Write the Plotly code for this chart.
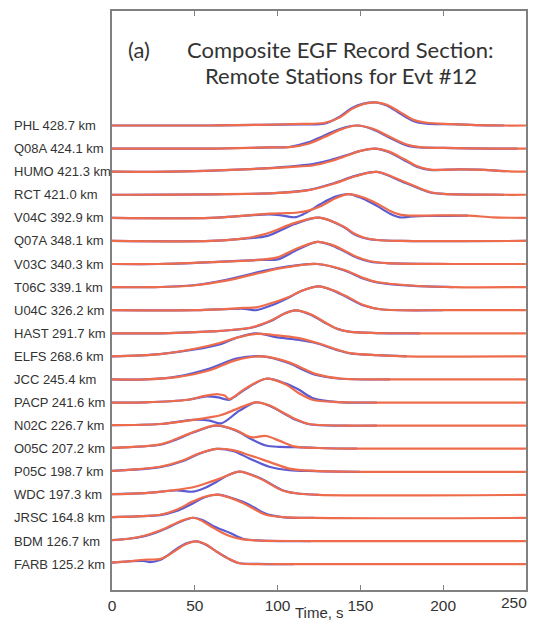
import plotly.graph_objects as go

# ---------------- data ----------------
STATIONS = ["PHL", "Q08A", "HUMO", "RCT", "V04C", "Q07A", "V03C", "T06C", "U04C", "HAST",
            "ELFS", "JCC", "PACP", "N02C", "O05C", "P05C", "WDC", "JRSC", "BDM", "FARB"]
DIST_KM = [428.7, 424.1, 421.3, 421.0, 392.9, 348.1, 340.3, 339.1, 326.2, 291.7,
           268.6, 245.4, 241.6, 226.7, 207.2, 198.7, 197.3, 164.8, 126.7, 125.2]
X_TICKS = [0, 50, 100, 150, 200, 250]

# time knots (s) and normalised amplitudes (red = orange trace, blue = blue trace)
PHL_T = [0, 60, 90, 115, 128, 137, 145, 152, 159, 166, 174, 182, 190, 205, 220, 237, 250]
PHL_RED = [0, 0, 0.03, 0.07, 0.11, 0.33, 0.72, 0.93, 1.0, 0.9, 0.58, 0.25, 0.12, 0.06, 0.02, 0, 0]
PHL_BLUE = [0, 0, 0.03, 0.05, 0.08, 0.36, 0.76, 0.95, 1.0, 0.87, 0.52, 0.2, 0.08, 0.06, 0.02, 0, None]

Q08A_T = [0, 60, 95, 107, 118, 128, 138, 148, 158, 168, 178, 186, 200, 230, 245, 250]
Q08A_RED = [0, 0, 0.05, 0.06, 0.2, 0.49, 0.82, 1.0, 0.85, 0.5, 0.18, 0.06, 0.03, 0, 0, 0]
Q08A_BLUE = [0, 0, 0.05, 0.07, 0.26, 0.56, 0.86, 1.0, 0.82, 0.46, 0.14, 0.05, 0.03, 0, 0, None]

HUMO_T = [0, 35, 80, 107, 122, 132, 142, 150, 159, 167, 176, 184, 192, 210, 225, 238, 250]
HUMO_RED = [0, 0, 0.1, 0.2, 0.28, 0.45, 0.7, 0.9, 1.0, 0.88, 0.56, 0.25, 0.09, 0.1, 0.08, 0.02, 0]
HUMO_BLUE = [0, 0, 0.1, 0.22, 0.34, 0.5, 0.72, 0.9, 1.0, 0.85, 0.52, 0.22, 0.08, 0.1, 0.08, 0.02, None]

RCT_T = [0, 10, 60, 98, 118, 134, 147, 160, 175, 192, 200, 237, 250]
RCT_RED = [0, 0, 0.02, 0.07, 0.19, 0.48, 0.8, 0.99, 0.61, 0.12, 0.04, 0, 0]
RCT_BLUE = [0, 0, 0.02, 0.07, 0.2, 0.5, 0.82, 0.99, 0.58, 0.1, 0.04, 0, None]

V04C_T = [0, 60, 95, 103, 111, 118, 126, 135, 143, 151, 160, 168, 174, 180, 190, 215, 230, 250]
V04C_RED = [0, 0, 0.18, 0.2, 0.22, 0.3, 0.5, 0.85, 1.03, 0.9, 0.62, 0.3, 0.14, 0.1, 0.1, 0.1, 0.02, 0]
V04C_BLUE = [0, 0, 0.15, 0.1, 0.03, 0.25, 0.6, 0.92, 1.03, 0.85, 0.52, 0.18, 0.02, 0.05, 0.08, 0.1, None, None]

Q07A_T = [0, 60, 80, 94, 110, 125, 140, 146, 152, 160, 175, 250]
Q07A_RED = [0, 0, 0.11, 0.33, 0.77, 1.01, 0.62, 0.33, 0.15, 0.04, 0, 0]
Q07A_BLUE = [0, 0, 0.1, 0.22, 0.72, 1.01, 0.6, 0.3, 0.13, 0.04, 0, 0]

V03C_T = [0, 28, 60, 90, 100, 112, 124, 132, 140, 148, 156, 166, 206, 250]
V03C_RED = [0, 0, 0.08, 0.19, 0.29, 0.68, 0.96, 0.85, 0.6, 0.3, 0.12, 0.04, 0, 0]
V03C_BLUE = [0, 0, 0.08, 0.18, 0.2, 0.62, 0.96, 0.83, 0.56, 0.27, 0.1, 0.04, 0, None]

T06C_T = [0, 25, 49, 69, 89, 103, 124, 140, 152, 160, 180, 206, 250]
T06C_RED = [0, 0, 0.07, 0.28, 0.61, 0.83, 1.0, 0.75, 0.39, 0.22, 0.07, 0, 0]
T06C_BLUE = [0, 0, 0.08, 0.32, 0.66, 0.86, 1.0, 0.73, 0.36, 0.2, 0.06, 0, None]

U04C_T = [0, 50, 80, 87, 96, 106, 115, 125, 134, 143, 152, 162, 200, 250]
U04C_RED = [0, 0, 0.1, 0.12, 0.3, 0.55, 0.85, 1.03, 0.85, 0.55, 0.22, 0.04, 0, 0]
U04C_BLUE = [0, 0, 0.06, 0.0, 0.2, 0.52, 0.85, 1.03, 0.83, 0.52, 0.2, 0.04, 0, None]

HAST_T = [0, 30, 60, 84, 96, 104, 111, 120, 128, 136, 144, 160, 186, 250]
HAST_RED = [0, 0, 0.08, 0.25, 0.55, 0.85, 0.99, 0.82, 0.5, 0.2, 0.06, 0.01, 0, 0]
HAST_BLUE = [0, 0, 0.08, 0.24, 0.53, 0.85, 0.99, 0.8, 0.48, 0.19, 0.06, 0.01, 0, None]

ELFS_T = [0, 29, 50, 65, 75, 87, 100, 112, 124, 136, 144, 160, 178, 250]
ELFS_RED = [0, 0.1, 0.33, 0.58, 0.8, 0.97, 0.91, 0.8, 0.58, 0.29, 0.14, 0.05, 0, 0]
ELFS_BLUE = [0, 0.1, 0.3, 0.52, 0.8, 1.0, 0.82, 0.72, 0.56, 0.27, 0.13, 0.05, 0, None]

JCC_T = [0, 20, 39, 59, 75, 91, 107, 116, 124, 138, 168, 250]
JCC_RED = [0, 0, 0.1, 0.4, 0.84, 1.0, 0.74, 0.45, 0.22, 0.04, 0, 0]
JCC_BLUE = [0, 0, 0.12, 0.47, 0.9, 1.0, 0.7, 0.4, 0.18, 0.03, 0, None]

PACP_T = [0, 20, 46, 56, 64, 68, 71, 80, 93, 105, 113, 121, 137, 160, 250]
PACP_RED = [0, 0.01, 0.12, 0.29, 0.36, 0.3, 0.15, 0.58, 1.03, 0.78, 0.4, 0.12, 0.02, 0, 0]
PACP_BLUE = [0, 0.01, 0.12, 0.26, 0.22, 0.15, 0.12, 0.55, 1.03, 0.82, 0.55, 0.2, 0.02, 0, None]

N02C_T = [0, 29, 49, 59, 66, 77, 87, 95, 103, 111, 119, 140, 160, 250]
N02C_RED = [0.02, 0.07, 0.25, 0.36, 0.46, 0.77, 1.01, 0.88, 0.58, 0.28, 0.07, 0, 0, 0]
N02C_BLUE = [0.02, 0.07, 0.25, 0.22, 0.1, 0.65, 1.01, 0.86, 0.56, 0.25, 0.06, 0, 0, None]

O05C_T = [0, 29, 39, 49, 63, 75, 84, 93, 101, 110, 125, 148, 250]
O05C_RED = [0.04, 0.19, 0.43, 0.72, 1.01, 0.8, 0.5, 0.55, 0.35, 0.1, 0.03, 0, 0]
O05C_BLUE = [0.04, 0.17, 0.4, 0.7, 1.0, 0.78, 0.42, 0.14, 0.08, 0.07, 0.03, 0, None]

P05C_T = [0, 29, 43, 52, 63, 73, 83, 95, 107, 123, 150, 250]
P05C_RED = [0.04, 0.22, 0.5, 0.78, 0.99, 0.94, 0.72, 0.43, 0.14, 0.04, 0, 0]
P05C_BLUE = [0.04, 0.2, 0.47, 0.76, 0.99, 0.9, 0.58, 0.22, 0.07, 0.03, 0, None]

WDC_T = [0, 20, 39, 49, 56, 63, 70, 77, 89, 103, 111, 125, 250]
WDC_RED = [0.03, 0.08, 0.22, 0.33, 0.48, 0.65, 0.85, 1.01, 0.72, 0.19, 0.07, 0, 0]
WDC_BLUE = [0.03, 0.08, 0.19, 0.14, 0.3, 0.56, 0.85, 1.01, 0.74, 0.2, 0.07, 0, None]

JRSC_T = [0, 15, 29, 39, 49, 56, 64, 71, 79, 86, 93, 103, 122, 250]
JRSC_RED = [0.04, 0.07, 0.14, 0.36, 0.72, 0.92, 1.01, 0.88, 0.65, 0.38, 0.14, 0.04, 0, 0]
JRSC_BLUE = [0.04, 0.07, 0.12, 0.3, 0.64, 0.9, 1.01, 0.9, 0.7, 0.45, 0.18, 0.04, 0, None]

BDM_T = [0, 10, 19, 26, 33, 41, 49, 55, 61, 66, 71, 79, 90, 120, 250]
BDM_RED = [0.04, 0.1, 0.22, 0.38, 0.58, 0.85, 1.01, 0.85, 0.58, 0.38, 0.22, 0.07, 0.02, 0, 0]
BDM_BLUE = [0.04, 0.1, 0.2, 0.35, 0.55, 0.83, 1.01, 0.9, 0.65, 0.5, 0.36, 0.1, 0.02, 0, None]

FARB_T = [0, 10, 19, 23, 29, 34, 39, 45, 51, 57, 63, 70, 77, 88, 110, 250]
FARB_RED = [0.07, 0.12, 0.19, 0.2, 0.22, 0.38, 0.62, 0.88, 0.99, 0.85, 0.55, 0.25, 0.04, 0, 0, 0]
FARB_BLUE = [0.07, 0.12, 0.14, 0.09, 0.18, 0.4, 0.66, 0.9, 0.99, 0.83, 0.55, 0.25, 0.04, 0.01, 0, None]

WAVES = {
    "PHL": (PHL_T, PHL_RED, PHL_BLUE), "Q08A": (Q08A_T, Q08A_RED, Q08A_BLUE),
    "HUMO": (HUMO_T, HUMO_RED, HUMO_BLUE), "RCT": (RCT_T, RCT_RED, RCT_BLUE),
    "V04C": (V04C_T, V04C_RED, V04C_BLUE), "Q07A": (Q07A_T, Q07A_RED, Q07A_BLUE),
    "V03C": (V03C_T, V03C_RED, V03C_BLUE), "T06C": (T06C_T, T06C_RED, T06C_BLUE),
    "U04C": (U04C_T, U04C_RED, U04C_BLUE), "HAST": (HAST_T, HAST_RED, HAST_BLUE),
    "ELFS": (ELFS_T, ELFS_RED, ELFS_BLUE), "JCC": (JCC_T, JCC_RED, JCC_BLUE),
    "PACP": (PACP_T, PACP_RED, PACP_BLUE), "N02C": (N02C_T, N02C_RED, N02C_BLUE),
    "O05C": (O05C_T, O05C_RED, O05C_BLUE), "P05C": (P05C_T, P05C_RED, P05C_BLUE),
    "WDC": (WDC_T, WDC_RED, WDC_BLUE), "JRSC": (JRSC_T, JRSC_RED, JRSC_BLUE),
    "BDM": (BDM_T, BDM_RED, BDM_BLUE), "FARB": (FARB_T, FARB_RED, FARB_BLUE),
}

# ---------------- styling ----------------
RED = "#EE6C4C"
BLUE = "#5B5BD2"
FRAME = "#808080"
TEXT = "#333333"
SANS = "Arial"

fig = go.Figure()
n = len(STATIONS)

for layer in ("blue", "red"):
    for i, s in enumerate(STATIONS):
        off = n - 1 - i
        t, red, blue = WAVES[s]
        vals = blue if layer == "blue" else red
        y = [None if v is None else off + v for v in vals]
        fig.add_trace(go.Scatter(
            x=t, y=y, mode="lines",
            line=dict(color=BLUE if layer == "blue" else RED, width=2.2,
                      shape="spline", smoothing=0.9),
            cliponaxis=True, hoverinfo="skip", showlegend=False))

annotations = []
for i, s in enumerate(STATIONS):
    off = n - 1 - i
    annotations.append(dict(
        x=-0.2415, xref="paper", y=off, yref="y", xanchor="left", yanchor="middle",
        text=f"{s} {DIST_KM[i]:.1f} km", showarrow=False,
        font=dict(family=SANS, size=13, color=TEXT)))

# last tick label drawn as an annotation, right-aligned so it stays on the page
tick_text = [str(v) for v in X_TICKS[:-1]] + [""]
annotations.append(dict(
    x=1.007, xref="paper", y=-0.022, yref="paper", xanchor="right", yanchor="middle",
    text=str(X_TICKS[-1]), showarrow=False,
    font=dict(family=SANS, size=15.5, color=TEXT)))

annotations += [
    dict(x=0.033, xref="paper", y=0.933, yref="paper", xanchor="left", yanchor="middle",
         text="(a)", showarrow=False, font=dict(family="Lato", size=22, color=TEXT)),
    dict(x=0.553, xref="paper", y=0.933, yref="paper", xanchor="center", yanchor="middle",
         text="Composite EGF Record Section:", showarrow=False,
         font=dict(family="Lato", size=22, color=TEXT)),
    dict(x=0.553, xref="paper", y=0.888, yref="paper", xanchor="center", yanchor="middle",
         text="Remote Stations for Evt #12", showarrow=False,
         font=dict(family="Lato", size=22, color=TEXT)),
    # x-axis title (placed as annotation so it fits the page without scrolling)
    dict(x=0.5, xref="paper", y=-0.0395, yref="paper", xanchor="center", yanchor="middle",
         text="Time, s", showarrow=False, font=dict(family=SANS, size=15, color=TEXT)),
]

fig.update_layout(
    width=531, height=612,
    margin=dict(l=104, r=13, t=1, b=30),
    paper_bgcolor="white", plot_bgcolor="white",
    annotations=annotations,
    xaxis=dict(range=[0, 250.05], tickvals=X_TICKS, ticktext=tick_text,
               ticks="inside", ticklen=5,
               tickcolor=FRAME, tickwidth=1.2, showline=True, linecolor=FRAME,
               linewidth=2, mirror="ticks", showgrid=False, zeroline=False,
               tickfont=dict(family=SANS, size=15.5, color=TEXT)),
    yaxis=dict(range=[-1.12, 23.96], showticklabels=False, ticks="", showline=True,
               linecolor=FRAME, linewidth=2, mirror=True, showgrid=False, zeroline=False),
)

fig.write_html("out.html")
